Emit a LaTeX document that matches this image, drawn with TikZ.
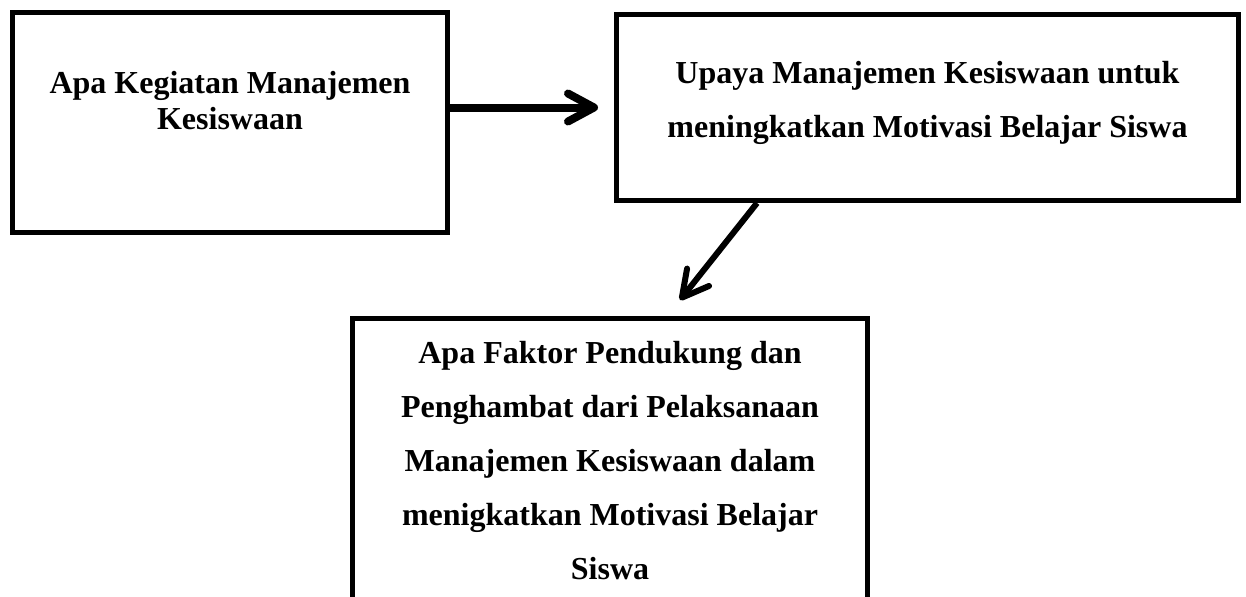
\documentclass[tikz,border=0pt]{standalone}
\usepackage{fontspec}
\setmainfont{Liberation Serif}
\usetikzlibrary{arrows.meta,positioning,calc}

\begin{document}
\begin{tikzpicture}[
  box/.style={draw, line width=2.5pt, align=center, font=\bfseries\fontsize{16}{27}\selectfont},
  arrow/.style={-{Straight Barb[length=13pt, width=14pt, round]}, line width=3pt},
]

\useasboundingbox (0,0) rectangle (623pt,-298pt);

% Kegiatan (left box)
\node[box, minimum width=217.5pt, minimum height=110pt, font=\bfseries\fontsize{16}{18}\selectfont] (kegiatan) at (115pt,-61.25pt) {
  Apa Kegiatan Manajemen\\Kesiswaan\\[4.5pt]\mbox{}
};

% Upaya (right box)
\node[box, minimum width=311pt, minimum height=93pt, right=82pt of kegiatan.north east, anchor=north west, yshift=-1pt] (upaya) {
  Upaya Manajemen Kesiswaan untuk\\meningkatkan Motivasi Belajar Siswa\\[-18.5pt]\mbox{}
};

% Faktor (bottom box, runs off the page)
\node[box, minimum width=257.5pt, minimum height=142pt, below=56.5pt of upaya.south west, xshift=-2pt] (faktor) {
  Apa Faktor Pendukung dan\\Penghambat dari Pelaksanaan\\Manajemen Kesiswaan dalam\\menigkatkan Motivasi Belajar\\Siswa
};

% Arrows
\draw[arrow, line width=4pt, shorten >=8pt] (kegiatan.east |- upaya.west) -- (upaya.west);

\coordinate (diagfrom) at ($(upaya.south west)+(71.5pt,0)$);
\coordinate (diagto) at ($(faktor.north)+(35pt,8pt)$);
\draw[arrow] (diagfrom) -- (diagto);

\end{tikzpicture}
\end{document}
